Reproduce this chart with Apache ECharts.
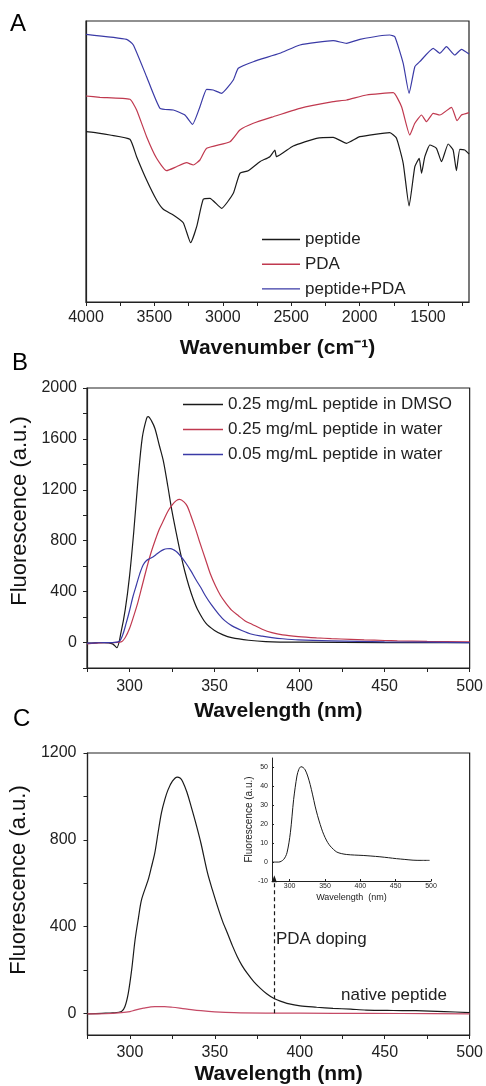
<!DOCTYPE html>
<html><head><meta charset="utf-8">
<script src="https://cdn.jsdelivr.net/npm/echarts@6/dist/echarts.min.js"></script>
<style>html,body{margin:0;padding:0;background:#fff}#c{width:486px;height:1086px}</style>
</head><body><div id="c"></div>
<script>
// ---------- Panel A: FTIR (transmittance, arbitrary units) ----------
const peptideWn = [4000,3898,3825,3679,3630,3557,3484,3435,3362,3289,3235,3191,3143,3094,3009,2923,2875,2814,2729,2656,2619,2607,2485,2315,2193,2095,1998,1779,1730,1681,1638,1596,1564,1547,1523,1486,1438,1401,1352,1316,1292,1267,1231,1200];
const peptideT  = [170.3,168.7,167,162.7,145.3,122,102,92.7,87,79.3,59.3,75.3,102.7,103.7,93.7,108.7,128.7,131.3,140.3,145.3,152,145.3,156,163.7,164.7,158.7,165.3,169.3,163.7,138.7,96,135.3,143.7,128.7,145.3,157,153.7,140.3,158,152,131.3,152.7,152,148];
const pdaWn = [4000,3898,3679,3630,3557,3484,3411,3338,3265,3216,3167,3118,2947,2875,2777,2631,2436,2193,2095,1949,1754,1693,1633,1596,1547,1511,1462,1413,1328,1287,1255,1200];
const pdaT  = [206,204.7,202.7,192,165.3,143.7,131.3,135.3,139.3,137,142,153.7,160.3,172,178.7,185.3,193.7,200.3,202,207,209.3,195.3,167,178.7,187,180.3,188.7,187,194.7,181.3,187,189.3];
const mixWn = [4000,3703,3654,3557,3459,3362,3277,3221,3167,3118,3070,3009,2923,2887,2777,2583,2436,2193,2095,1998,1779,1742,1681,1638,1596,1560,1462,1413,1365,1304,1255,1200];
const mixT  = [267.7,262.7,257,225.3,193.7,192,187,177.7,195.3,212.7,212,208.7,222,233.7,240.3,248.7,257,261.3,258.7,262.7,267,265.3,238.7,208.7,235.3,240.3,253.7,248.7,255.3,247,252.7,248];
const aLabels = [4000,3500,3000,2500,2000,1500];
const aTicks  = [4000,3750,3500,3250,3000,2750,2500,2250,2000,1750,1500,1250];

// ---------- Panel B: fluorescence ----------
const dmsoNm = [275,280,285,290,292.5,295,297.5,300,302.5,305,307.5,310,311,313,315,317.5,320,322.5,325,327.5,330,332.5,335,337.5,340,345,350,355,360,370,380,400,450,500];
const dmsoF  = [-5,-3,0,-10,-40,80,260,520,870,1280,1610,1760,1775,1740,1680,1550,1420,1230,1030,860,700,560,440,340,260,150,95,60,38,18,8,3,0,0];
const water25Nm = [275,280,285,290,295,297.5,300,302.5,305,307.5,310,312.5,315,317.5,320,322.5,325,327.5,329.5,332,334,336,338.9,341,344.7,347.5,350.6,353.5,356.4,360,364.2,368,372,378,383.7,390,399.3,410,418.7,430,438,450,457.5,475,500];
const water25F  = [-10,-5,0,0,5,40,110,210,320,450,580,700,800,890,960,1030,1080,1115,1125,1105,1070,1000,889,800,653,540,444,370,314,255,209,170,144,105,78,60,47,37,31,25,21,16,13,9,5];
const water05Nm = [275,280,285,290,294,296,298,300,302,304,306,308,310,312,314,316,318,320,322,324,326,328,330,333,336,338.9,342,344.7,348,352.5,356,360.3,366,372,378,383.7,390,399.3,418.7,450,500];
const water05F  = [-5,-3,0,0,10,60,150,250,360,450,540,610,645,660,675,695,715,730,737,738,728,710,680,627,565,497,430,366,300,222,172,131,95,65,50,39,30,21,13,6,0];
const bxLabels = [300,350,400,450,500];
const bxTicks  = [275,300,325,350,375,400,425,450,475,500];
const byLabels = [0,400,800,1200,1600,2000];
const byTicks  = [-200,0,200,400,600,800,1000,1200,1400,1600,1800,2000];

// ---------- Panel C: fluorescence ----------
const dopedNm = [275,283.5,290,295,297,299,301,303,305,306.8,310.7,312.5,314.6,316.5,318.5,320.5,322.4,325,327.8,329.5,331,333.5,336,339,341.8,345.7,348.5,351.6,354.5,357.4,360.3,363.2,366,369,373,376.8,380.5,384.6,388.5,392.4,400.2,410,419.6,430,439,455,468.3,485,500];
const dopedF  = [-3,0,2,8,30,92,200,338,440,523,615,670,738,830,923,985,1030,1070,1089,1085,1069,1020,954,870,784,646,570,492,425,369,312,261,220,185,145,115,90,69,56,46,34,28,23,19,15,13,12,8,3];
const nativeNm = [275,285,295,300,303,308,314.6,320.4,325,330.2,336,341.8,350,361.3,380,420,460,500];
const nativeF  = [-3,-2,3,8,15,24,31,31,28,23,17,12,7,3,1,0,-1,-3];
const dopingArrow = [385, 0, 620]; // wavelength, start value, end value
const cyLabels = [0,400,800,1200];
const cyTicks  = [0,200,400,600,800,1000,1200];

// ---------- Inset ----------
const insetNm = [275,284.5,291.5,296.2,301,305.6,310.3,313,316,319,322,325.5,329,332.5,336,339.5,343.2,346.7,350.2,353.7,357.3,362,366.7,373,380.8,392,404,415,427.7,440,451.2,463,474.6,486,498];
const insetF  = [0,0,1.4,4.9,15.5,33,45.5,49,50.4,50,48.7,45.5,41,35.5,29.6,24.5,19.9,16,12.9,10.4,8.5,6.7,5.3,4.5,4,3.7,3.5,3.2,2.8,2.3,1.8,1.4,1,0.9,0.9];
const ixLabels = [300,350,400,450,500];
const iyLabels = [-10,0,10,20,30,40,50];

// ---------- styling ----------
const FF = "'Liberation Sans', Arial, Helvetica, sans-serif";
const INK = '#222';
const BLACK = '#1a1a1a', RED = '#c0394f', BLUE = '#3a3aa6', PINK = '#c54a66';
const plain = v => String(v);

const zip = (xs, ys) => xs.map((x, i) => [x, ys[i]]);

function line(name, xs, ys, color, idx, smooth, extra) {
  return Object.assign({
    type: 'line', name, xAxisIndex: idx, yAxisIndex: idx,
    data: zip(xs, ys), symbol: 'none', showSymbol: false,
    smooth: smooth, lineStyle: { color, width: 1.2 }, itemStyle: { color },
    silent: true, animation: false
  }, extra || {});
}

const lineAx = { show: true, onZero: false, lineStyle: { color: INK, width: 1.2 } };

const chart = echarts.init(document.getElementById('c'), null, { renderer: 'canvas' });
chart.setOption({
  animation: false,
  backgroundColor: '#fff',
  textStyle: { fontFamily: FF },
  grid: [
    { left: 86, top: 21, width: 383, height: 281, show: true, borderColor: INK, borderWidth: 1.2 },
    { left: 87, top: 388, width: 384, height: 280, show: true, borderColor: INK, borderWidth: 1.2 },
    { left: 86, top: 753, width: 385, height: 282, show: true, borderColor: INK, borderWidth: 1.2 },
    { left: 272, top: 758, width: 159, height: 123, show: false }
  ],
  xAxis: [
    { gridIndex: 0, type: 'value', min: 1200, max: 4000, inverse: true,
      axisLine: lineAx, splitLine: { show: false },
      axisTick: { show: true, customValues: aTicks, length: 4, lineStyle: { color: INK } },
      axisLabel: { customValues: aLabels, formatter: plain, fontSize: 16, color: INK, margin: 8, fontFamily: FF },
      name: 'Wavenumber (cm\u207B\u00B9)', nameLocation: 'middle', nameGap: 36,
      nameTextStyle: { fontSize: 21, fontWeight: 'bold', color: '#111', fontFamily: FF } },
    { gridIndex: 1, type: 'value', min: 275, max: 500,
      axisLine: lineAx, splitLine: { show: false },
      axisTick: { show: true, customValues: bxTicks, length: 4, lineStyle: { color: INK } },
      axisLabel: { customValues: bxLabels, formatter: plain, fontSize: 16, color: INK, margin: 11, fontFamily: FF },
      name: 'Wavelength (nm)', nameLocation: 'middle', nameGap: 33,
      nameTextStyle: { fontSize: 21, fontWeight: 'bold', color: '#111', fontFamily: FF } },
    { gridIndex: 2, type: 'value', min: 275, max: 500,
      axisLine: lineAx, splitLine: { show: false },
      axisTick: { show: true, customValues: bxTicks, length: 4, lineStyle: { color: INK } },
      axisLabel: { customValues: bxLabels, formatter: plain, fontSize: 16, color: INK, margin: 10, fontFamily: FF },
      name: 'Wavelength (nm)', nameLocation: 'middle', nameGap: 29,
      nameTextStyle: { fontSize: 21, fontWeight: 'bold', color: '#111', fontFamily: FF } },
    { gridIndex: 3, type: 'value', min: 275, max: 500,
      axisLine: { show: true, onZero: false, lineStyle: { color: INK, width: 1 } }, splitLine: { show: false },
      axisTick: { show: true, inside: true, customValues: ixLabels, length: 2, lineStyle: { color: INK } },
      axisLabel: { customValues: ixLabels, formatter: plain, fontSize: 7, color: INK, margin: 2, fontFamily: FF },
      name: 'Wavelength  (nm)', nameLocation: 'middle', nameGap: 12,
      nameTextStyle: { fontSize: 9, color: INK, fontFamily: FF } }
  ],
  yAxis: [
    { gridIndex: 0, type: 'value', min: 0, max: 281,
      axisLine: lineAx, splitLine: { show: false }, axisTick: { show: false }, axisLabel: { show: false } },
    { gridIndex: 1, type: 'value', min: -200, max: 2000,
      axisLine: lineAx, splitLine: { show: false },
      axisTick: { show: true, customValues: byTicks, length: 4, lineStyle: { color: INK } },
      axisLabel: { customValues: byLabels, formatter: plain, fontSize: 16, color: INK, margin: 10, fontFamily: FF },
      name: 'Fluorescence (a.u.)', nameLocation: 'middle', nameGap: 50,
      nameTextStyle: { fontSize: 22, color: '#111', fontFamily: FF, padding: [0, 0, 0, 34] } },
    { gridIndex: 2, type: 'value', min: -100, max: 1200,
      axisLine: lineAx, splitLine: { show: false },
      axisTick: { show: true, customValues: cyTicks, length: 4, lineStyle: { color: INK } },
      axisLabel: { customValues: cyLabels, formatter: plain, fontSize: 16, color: INK, margin: 11, fontFamily: FF },
      name: 'Fluorescence (a.u.)', nameLocation: 'middle', nameGap: 49,
      nameTextStyle: { fontSize: 22, color: '#111', fontFamily: FF, padding: [0, 0, 0, 28] } },
    { gridIndex: 3, type: 'value', min: -10, max: 55,
      axisLine: { show: true, onZero: false, lineStyle: { color: INK, width: 1 } }, splitLine: { show: false },
      axisTick: { show: true, inside: true, customValues: iyLabels, length: 2, lineStyle: { color: INK } },
      axisLabel: { customValues: iyLabels, formatter: plain, fontSize: 7, color: INK, margin: 4, fontFamily: FF },
      name: 'Fluorescence (a.u.)', nameLocation: 'middle', nameGap: 15,
      nameTextStyle: { fontSize: 10, color: INK, fontFamily: FF } }
  ],
  legend: [
    { left: 262, top: 231, orient: 'vertical', padding: 0, itemWidth: 38, itemHeight: 1.4, itemGap: 7.7,
      icon: 'rect', selectedMode: false, data: ['peptide', 'PDA', 'peptide+PDA'],
      textStyle: { fontSize: 17, lineHeight: 14, color: INK, fontFamily: FF } },
    { left: 183, top: 396, orient: 'vertical', padding: 0, itemWidth: 40, itemHeight: 1.4, itemGap: 8,
      icon: 'rect', selectedMode: false,
      data: ['0.25 mg/mL peptide in DMSO', '0.25 mg/mL peptide in water', '0.05 mg/mL peptide in water'],
      textStyle: { fontSize: 17, lineHeight: 14, color: INK, fontFamily: FF } }
  ],
  series: [
    line('peptide', peptideWn, peptideT, BLACK, 0, 0.15),
    line('PDA', pdaWn, pdaT, RED, 0, 0.15),
    line('peptide+PDA', mixWn, mixT, BLUE, 0, 0.15),
    line('0.25 mg/mL peptide in DMSO', dmsoNm, dmsoF, BLACK, 1, 0.3),
    line('0.25 mg/mL peptide in water', water25Nm, water25F, RED, 1, 0.3),
    line('0.05 mg/mL peptide in water', water05Nm, water05F, BLUE, 1, 0.3),
    line('PDA doping', dopedNm, dopedF, BLACK, 2, 0.3, {
      markLine: {
        silent: true, animation: false, symbol: ['none', 'triangle'], symbolSize: [5, 7],
        label: { show: false },
        lineStyle: { color: BLACK, type: [4, 3], width: 1.2 },
        data: [[{ coord: [dopingArrow[0], dopingArrow[1]] }, { coord: [dopingArrow[0], dopingArrow[2]] }]]
      }
    }),
    line('native peptide', nativeNm, nativeF, PINK, 2, 0.3),
    line('inset', insetNm, insetF, BLACK, 3, 0.3, { lineStyle: { color: BLACK, width: 1 } })
  ],
  graphic: [
    { type: 'text', left: 10, top: 12, style: { text: 'A', fontSize: 24, fontFamily: FF, fill: '#000' } },
    { type: 'text', left: 12, top: 351, style: { text: 'B', fontSize: 24, fontFamily: FF, fill: '#000' } },
    { type: 'text', left: 13, top: 707, style: { text: 'C', fontSize: 24, fontFamily: FF, fill: '#000' } },
    { type: 'text', left: 276, top: 931, style: { text: 'PDA doping', fontSize: 17, fontFamily: FF, fill: INK } },
    { type: 'text', left: 341, top: 987, style: { text: 'native peptide', fontSize: 17, fontFamily: FF, fill: INK } }
  ]
});
</script></body></html>
